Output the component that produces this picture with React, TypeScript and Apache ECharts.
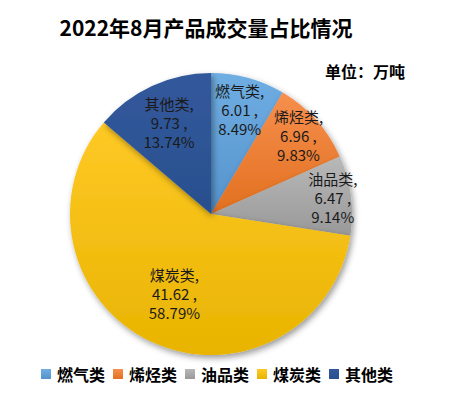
import React, { useEffect, useRef } from "react";
import * as echarts from "echarts";

const categories = ["燃气类", "烯烃类", "油品类", "煤炭类", "其他类"];
const values = [6.01, 6.96, 6.47, 41.62, 9.73];
const percents = ["8.49%", "9.83%", "9.14%", "58.79%", "13.74%"];
const colorTop = ["#6FAEE3", "#F68F4E", "#B8B8B8", "#FFC926", "#32599C"];
const colorBottom = ["#5592CC", "#E2701F", "#999999", "#E8B400", "#2A4F8E"];
const labelRadiusFrac = [0.75, 0.81, 0.85, 0.6, 0.69];

const CX = 211;
const CY = 214;
const R = 141;

export default function App() {
  const ref = useRef<HTMLDivElement>(null);
  useEffect(() => {
    if (!ref.current) return;
    const chart = echarts.init(ref.current, null, { renderer: "svg" });
    const total = values.reduce((a, b) => a + b, 0);
    const mids: number[] = [];
    let acc = 0;
    values.forEach((v) => {
      mids.push(((acc + v / 2) / total) * Math.PI * 2);
      acc += v;
    });
    const font = "'Liberation Sans Narrow', 'Noto Sans CJK SC', sans-serif";
    const cjk = "'Noto Sans CJK SC', sans-serif";
    chart.setOption({
      animation: false,
      title: [
        {
          text: "2022年8月产品成交量占比情况",
          left: 201,
          textAlign: "center",
          top: 11,
          textStyle: { fontSize: 21, fontWeight: "bold", color: "#000", fontFamily: cjk },
        },
        {
          text: "单位：万吨",
          left: 320,
          top: 58,
          textStyle: { fontSize: 16, fontWeight: "bold", color: "#000", fontFamily: cjk },
        },
      ],
      legend: {
        left: 41,
        top: 366,
        itemWidth: 10,
        itemHeight: 10,
        itemGap: 8,
        icon: "rect",
        padding: 0,
        data: categories,
        textStyle: { fontSize: 16, fontWeight: "bold", color: "#000", padding: [0, 0, 0, 1], fontFamily: cjk },
      },
      series: [
        {
          type: "pie",
          center: [CX, CY],
          radius: [0, R],
          startAngle: 90,
          clockwise: true,
          data: categories.map((c, i) => ({
            name: c,
            value: values[i],
            itemStyle: {
              color: new echarts.graphic.LinearGradient(0, 0, 0, 1, [
                { offset: 0, color: colorTop[i] },
                { offset: 1, color: colorBottom[i] },
              ]),
            },
          })),
          itemStyle: {
            borderWidth: 0,
            shadowBlur: 6,
            shadowOffsetX: 2,
            shadowOffsetY: 3,
            shadowColor: "rgba(0,0,0,0.4)",
          },
          label: {
            show: true,
            position: "inside",
            color: "#1a1a1a",
            fontSize: 15,
            lineHeight: 19,
            fontFamily: font,
            formatter: (p: any) => `${p.name},\n${values[p.dataIndex]} ,\n${percents[p.dataIndex]}`,
          },
          labelLayout: (p: any) => {
            const i = p.dataIndex;
            const k = (labelRadiusFrac[i] - 0.5) * R;
            return { dx: Math.sin(mids[i]) * k, dy: -Math.cos(mids[i]) * k };
          },
          labelLine: { show: false },
          emphasis: { disabled: true },
        },
      ],
    });
    return () => chart.dispose();
  }, []);
  return (
    <div
      ref={ref}
      style={{ position: "fixed", left: 0, top: 0, width: 453, height: 398, background: "#fff" }}
    />
  );
}
